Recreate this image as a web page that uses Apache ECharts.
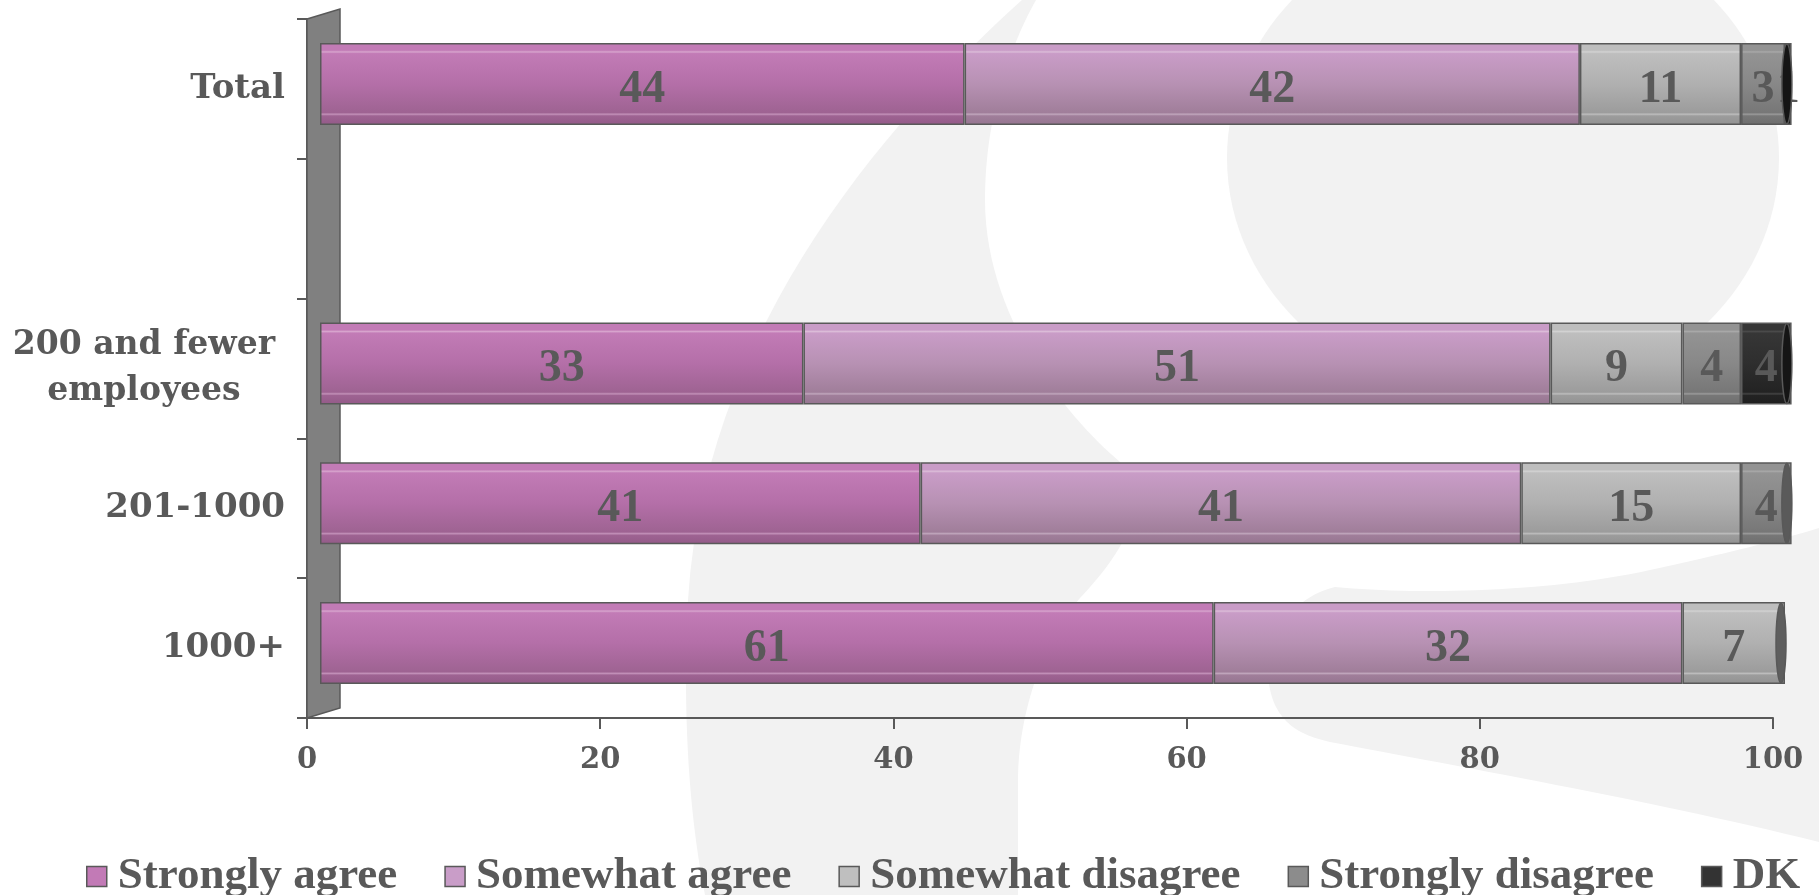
<!DOCTYPE html>
<html><head><meta charset="utf-8">
<script src="https://cdn.jsdelivr.net/npm/echarts@6/dist/echarts.min.js"></script>
<style>html,body{margin:0;padding:0;background:#fff}#c{width:1819px;height:895px}</style>
</head><body><div id="c"></div>
<script>
// ---- data ----
const categories = ['Total', '', '200 and fewer\nemployees', '201-1000', '1000+'];
const seriesNames = ['Strongly agree', 'Somewhat agree', 'Somewhat disagree', 'Strongly disagree', 'DK'];
const stronglyAgree    = [44, '-', 33, 41, 61];
const somewhatAgree    = [42, '-', 51, 41, 32];
const somewhatDisagree = [11, '-', 9, 15, 7];
const stronglyDisagree = [3, '-', 4, 4, '-'];
const dontKnow         = [1, '-', 4, '-', '-'];
const xMin = 0, xMax = 100, xStep = 20;

// ---- styling ----
const TXT = '#595959';
const legendColors = ['#C27AB6', '#C99DC8', '#BFBFBF', '#8C8C8C', '#333333'];
const capColors = ['#8E4F82', '#8E7089', '#5E5E5E', '#5A5A5A', '#151515'];
const gradStops = [
  ['#C27BB6', '#D7A4CD', '#B46FA8', '#9E6392', '#C290B8', '#935A88'],
  ['#C99CC7', '#DBBCD8', '#B791B3', '#A07E9A', '#C0A6BC', '#957590'],
  ['#BEBEBE', '#D2D2D2', '#B0B0B0', '#9C9C9C', '#BDBDBD', '#929292'],
  ['#939393', '#A8A8A8', '#888888', '#777777', '#9A9A9A', '#6E6E6E'],
  ['#363636', '#4A4A4A', '#2E2E2E', '#232323', '#444444', '#1E1E1E']
];
function grad(s) {
  return new echarts.graphic.LinearGradient(0, 0, 0, 1, [
    {offset: 0, color: s[0]}, {offset: 0.09, color: s[0]},
    {offset: 0.11, color: s[1]}, {offset: 0.13, color: s[0]},
    {offset: 0.5, color: s[2]}, {offset: 0.85, color: s[3]},
    {offset: 0.87, color: s[4]}, {offset: 0.89, color: s[3]},
    {offset: 1, color: s[5]}
  ]);
}
const seriesData = [stronglyAgree, somewhatAgree, somewhatDisagree, stronglyDisagree, dontKnow];

// the 3D bars are cut a little past the 100 line (the front plane of the box)
const barAxisMax = xMax + 0.4;
const unitPx = 14.65;

// stack end (for the cylinder end caps), derived from the data
const capData = [];
categories.forEach((c, ci) => {
  let sum = 0, last = -1;
  seriesData.forEach((arr, si) => { const v = arr[ci]; if (typeof v === 'number' && v > 0) { sum += v; last = si; } });
  if (last >= 0) capData.push([Math.min(sum, barAxisMax), ci, last]);
});

const chart = echarts.init(document.getElementById('c'), null, {renderer: 'canvas'});

// background artwork (decorative logo), sampled from simple bezier outlines
const BG = '#F2F2F2';
function samplePath(cmds) {
  const pts = []; let cur = null;
  cmds.forEach(c => {
    if (c[0] === 'M' || c[0] === 'L') { cur = [c[1], c[2]]; pts.push(cur); }
    else if (c[0] === 'C') {
      const p0 = cur, p1 = [c[1], c[2]], p2 = [c[3], c[4]], p3 = [c[5], c[6]];
      for (let k = 1; k <= 30; k++) {
        const t = k / 30, u = 1 - t;
        pts.push([u*u*u*p0[0] + 3*u*u*t*p1[0] + 3*u*t*t*p2[0] + t*t*t*p3[0],
                  u*u*u*p0[1] + 3*u*u*t*p1[1] + 3*u*t*t*p2[1] + t*t*t*p3[1]]);
      }
      cur = p3;
    }
  });
  return pts;
}
const crescent = [['M', 1022, 0], ['C', 900, 110, 705, 320, 688, 600], ['C', 682, 720, 690, 820, 705, 895],
  ['L', 1018, 895], ['L', 1018, 780], ['C', 1018, 720, 1040, 645, 1080, 598],
  ['C', 1130, 545, 1150, 500, 1120, 462], ['C', 1070, 420, 985, 320, 985, 200],
  ['C', 985, 120, 1008, 50, 1036, 0]];
const tail = [['M', 1335, 587], ['C', 1420, 595, 1550, 592, 1650, 570], ['C', 1720, 555, 1780, 540, 1819, 528],
  ['L', 1819, 842], ['C', 1650, 800, 1450, 765, 1330, 742],
  ['C', 1300, 735, 1285, 725, 1275, 705], ['C', 1255, 660, 1280, 600, 1335, 587]];

const option = {
  backgroundColor: '#ffffff',
  animation: false,
  grid: [
    {left: 307, right: 46, top: 19, bottom: 177, containLabel: false},
    {left: 320, right: 1819 - 320 - barAxisMax * unitPx, top: 14, bottom: 182, containLabel: false}
  ],
  xAxis: [
    {
      gridIndex: 0, type: 'value', min: xMin, max: xMax, interval: xStep,
      axisLine: {show: true, lineStyle: {color: TXT, width: 2}},
      axisTick: {show: true, length: 11, lineStyle: {color: TXT, width: 2}},
      splitLine: {show: false},
      axisLabel: {color: TXT, fontFamily: 'DejaVu Serif', fontWeight: 'bold', fontSize: 29, margin: 28}
    },
    {gridIndex: 1, type: 'value', min: xMin, max: barAxisMax, show: false}
  ],
  yAxis: [
    {
      gridIndex: 0, type: 'category', data: categories, inverse: true,
      axisLine: {show: true, lineStyle: {color: TXT, width: 2}},
      axisTick: {show: true, length: 10, interval: 0, lineStyle: {color: TXT, width: 2}},
      axisLabel: {
        interval: 0, color: TXT, fontFamily: 'DejaVu Serif', fontWeight: 'bold', fontSize: 34, margin: 22,
        lineHeight: 46,
        formatter: v => v.indexOf('\n') >= 0 ? v.split('\n').map(t => '{c|' + t + '}').join('\n') : v,
        rich: {c: {width: 282, align: 'center', color: TXT, fontFamily: 'DejaVu Serif', fontWeight: 'bold', fontSize: 33, lineHeight: 46}}
      }
    },
    {gridIndex: 1, type: 'category', data: categories, inverse: true, show: false}
  ],
  legend: {
    left: 81, top: 849, itemWidth: 20, itemHeight: 20, itemGap: 47, icon: 'rect',
    textStyle: {color: TXT, fontFamily: 'Liberation Serif', fontWeight: 'bold', fontSize: 45, padding: [0, 0, 0, 6]},
    data: seriesNames.map((n, i) => ({name: n, itemStyle: {color: legendColors[i], borderColor: TXT, borderWidth: 1.5}}))
  },
  series: seriesNames.map((n, i) => ({
    name: n, type: 'bar', stack: 'all', xAxisIndex: 1, yAxisIndex: 1,
    barWidth: 82, clip: true,
    data: seriesData[i],
    itemStyle: {color: grad(gradStops[i]), borderColor: TXT, borderWidth: 1.5},
    label: {show: true, position: 'inside', offset: [0, 6], color: TXT, fontFamily: 'Liberation Serif', fontWeight: 'bold', fontSize: 46,
      formatter: p => p.value},
    emphasis: {disabled: true}
  })).concat([{
    name: 'cap', type: 'custom', xAxisIndex: 1, yAxisIndex: 1, z: 3, silent: true,
    data: capData,
    renderItem: (params, api) => {
      const end = api.coord([api.value(0), api.value(1)]);
      return {type: 'ellipse', shape: {cx: end[0] - 4, cy: end[1], rx: 5, ry: 40},
        style: {fill: capColors[api.value(2)], stroke: TXT, lineWidth: 1.5}};
    }
  }])
};
chart.setOption(option);

// 3D back wall along the category axis + background artwork
const rect = chart.getModel().getComponent('grid', 0).coordinateSystem.getRect();
const x0 = chart.convertToPixel({xAxisIndex: 0}, xMin);
const depthX = 33, depthY = -10;
const elements = [crescent, tail].map(c => ({type: 'polygon', z: -10, silent: true, shape: {points: samplePath(c)}, style: {fill: BG}}));
elements.push({type: 'ellipse', z: -10, silent: true, shape: {cx: 1503, cy: 158, rx: 276, ry: 245}, style: {fill: BG}});
elements.push({
  type: 'polygon', z: 1, silent: true,
  shape: {points: [[x0, rect.y], [x0 + depthX, rect.y + depthY], [x0 + depthX, rect.y + rect.height + depthY], [x0, rect.y + rect.height]]},
  style: {fill: '#808080', stroke: TXT, lineWidth: 1.5}
});
chart.setOption({graphic: {elements}});
</script></body></html>
